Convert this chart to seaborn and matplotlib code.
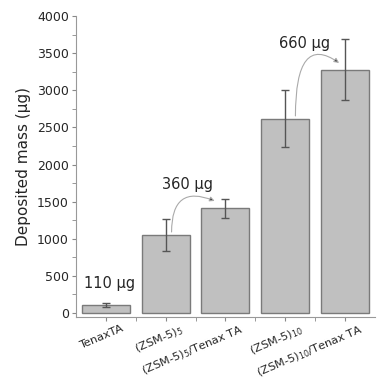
import matplotlib
matplotlib.use('Agg')
import matplotlib.pyplot as plt
import matplotlib.transforms as mtrans
import seaborn as sns
import pandas as pd

samples = ['TenaxTA', '(ZSM-5)$_5$', '(ZSM-5)$_5$/Tenax TA',
           '(ZSM-5)$_{10}$', '(ZSM-5)$_{10}$/Tenax TA']
mass = [110, 1055, 1410, 2620, 3280]
err = [25, 215, 130, 390, 410]
labels = ['110 µg', '360 µg', '660 µg']

sns.set_style('ticks')
plt.rcParams['font.family'] = ['DejaVu Sans']

df = pd.DataFrame({'sample': samples, 'mass': mass, 'err': err})

fig = plt.figure(figsize=(3.85, 3.83), dpi=100)
ax = fig.add_axes([0.197, 0.172, 0.777, 0.786])

sns.barplot(data=df, x='sample', y='mass', color='#c0c0c0', saturation=1,
            edgecolor='#7a7a7a', linewidth=1, width=0.8, ax=ax)
ax.errorbar(range(len(mass)), mass, yerr=err, fmt='none', ecolor='#555555',
            elinewidth=1, capsize=3, capthick=1)

ax.set_xlim(-0.5, 4.5)
ax.set_ylim(-55, 4000)
ax.set_yticks(range(0, 4001, 500))
ax.set_yticks(range(250, 4000, 500), minor=True)
ax.set_xticks([0.5, 1.5, 2.5, 3.5], minor=True)
ax.set_xlabel('')
ax.set_ylabel('Deposited mass (µg)', fontsize=11, labelpad=4)
ax.tick_params(axis='both', which='major', labelsize=9, color='#888888',
               length=3, pad=2)
ax.tick_params(axis='both', which='minor', color='#888888', length=3)
ax.set_xticks(range(len(samples)))
ax.set_xticklabels(samples, rotation=23, ha='right', va='top',
                   rotation_mode='anchor', fontsize=8.2)
shift = mtrans.ScaledTranslation(15 / 100, 1 / 100, fig.dpi_scale_trans)
for lab in ax.get_xticklabels():
    lab.set_transform(lab.get_transform() + shift)
for s in ['top', 'right']:
    ax.spines[s].set_visible(False)
for s in ['left', 'bottom']:
    ax.spines[s].set_color('#999999')

ax.text(0.07, 337, labels[0], fontsize=10.5, ha='center', va='baseline')
ax.text(1.37, 1671, labels[1], fontsize=10.5, ha='center', va='baseline')
ax.text(3.33, 3571, labels[2], fontsize=10.5, ha='center', va='baseline')

ax.annotate('', xy=(1.82, 1510), xytext=(1.1, 1092),
            arrowprops=dict(arrowstyle='-|>', ec='#aaaaaa', fc='#333333',
                            lw=0.8, mutation_scale=7, shrinkA=0, shrinkB=0,
                            connectionstyle='angle3,angleA=90,angleB=-22'))
ax.annotate('', xy=(3.9, 3369), xytext=(3.17, 2655),
            arrowprops=dict(arrowstyle='-|>', ec='#aaaaaa', fc='#333333',
                            lw=0.8, mutation_scale=7, shrinkA=0, shrinkB=0,
                            connectionstyle='angle3,angleA=90,angleB=-35'))

fig.savefig('out.png', dpi=100)
